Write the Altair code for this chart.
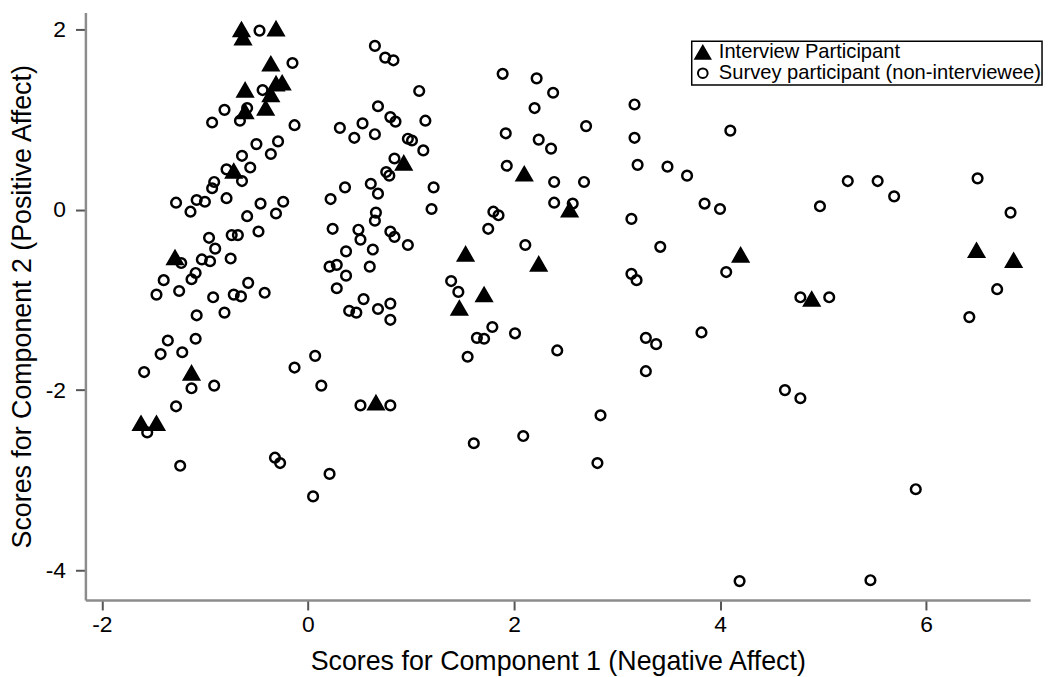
import altair as alt
import pandas as pd

# Interview participants (filled triangles)
int_x = [-0.645, -0.63, -0.31, -0.36, -0.61, -0.31, -0.25, -0.36, -0.41, -0.61, -0.72,
         -1.29, -1.13, -1.62, -1.47, 0.66, 0.93, 2.10, 2.54, 1.53, 2.24, 1.71, 1.47,
         4.20, 4.89, 6.49, 6.85]
int_y = [2.00, 1.91, 2.01, 1.62, 1.33, 1.40, 1.41, 1.28, 1.13, 1.09, 0.43,
         -0.53, -1.81, -2.37, -2.37, -2.14, 0.52, 0.40, 0.00, -0.49, -0.60, -0.94, -1.09,
         -0.50, -0.99, -0.45, -0.56]

# Survey participants (hollow circles)
sur_x = [-0.47, -0.15, -0.44, -0.59, -0.81, -0.93, -0.66, -0.13, -0.50, -0.29, -0.64, -0.36,
         -0.56, -0.79, -0.64, -0.91, -0.93, -1.28, -1.08, -1.00, -0.79, -1.14, -0.46, -0.24,
         -0.59, -0.31,
         -0.96, -0.74, -0.68, -0.48, -0.90, -1.23, -1.03, -0.95, -0.75, -1.09, -1.13, -1.40,
         -1.47, -1.25, -0.92, -0.72, -0.65, -0.58, -0.42, -1.08, -0.81, -1.09, -1.36, -1.43,
         -1.22, -1.59, -1.13, -0.91, -1.28, -1.56, -1.24, -0.32, -0.27, -0.13, 0.07,
         0.65, 0.75, 0.83, 1.08, 0.68, 0.80, 0.85, 1.14, 0.31, 0.53, 0.45, 0.65, 0.97, 1.01,
         1.12, 0.84, 0.76, 0.79, 0.36, 0.61, 0.68, 0.22, 1.22, 1.20, 0.66, 0.65,
         0.24, 0.49, 0.51, 0.80, 0.84, 0.97, 0.37, 0.63, 0.21, 0.28, 0.37, 0.60, 0.28, 0.54,
         0.40, 0.47, 0.68, 0.80, 0.80, 0.13, 0.51, 0.80, 0.21, 0.05,
         1.89, 2.22, 2.38, 2.20, 2.70, 1.92, 2.24, 2.36, 1.93, 2.39, 2.68, 2.39, 2.57, 1.80,
         1.85, 1.75, 2.11,
         1.39, 1.46, 1.79, 1.64, 1.71, 2.01, 1.55, 2.42, 2.84, 1.61, 2.09, 2.81,
         3.17, 3.17, 4.10, 3.20, 3.49, 3.68, 3.85, 4.00, 3.14, 3.42, 4.06, 3.14, 3.19, 4.78,
         5.06, 3.82, 3.28, 3.38, 3.28, 4.63, 4.78,
         5.24, 5.53, 5.69, 4.97, 6.50, 6.82, 6.69, 6.42, 5.90,
         4.19, 5.46]
sur_y = [1.99, 1.63, 1.33, 1.13, 1.11, 0.97, 0.99, 0.94, 0.73, 0.76, 0.60, 0.62,
         0.47, 0.45, 0.32, 0.31, 0.24, 0.08, 0.11, 0.09, 0.13, -0.02, 0.07, 0.09,
         -0.07, -0.04,
         -0.31, -0.28, -0.28, -0.24, -0.43, -0.59, -0.55, -0.57, -0.54, -0.70, -0.77, -0.78,
         -0.94, -0.90, -0.97, -0.94, -0.96, -0.81, -0.92, -1.17, -1.14, -1.43, -1.45, -1.60,
         -1.58, -1.80, -1.98, -1.95, -2.18, -2.47, -2.84, -2.75, -2.81, -1.75, -1.62,
         1.82, 1.69, 1.66, 1.32, 1.15, 1.03, 0.98, 0.99, 0.91, 0.96, 0.80, 0.84, 0.79, 0.77,
         0.66, 0.57, 0.42, 0.38, 0.25, 0.29, 0.18, 0.12, 0.25, 0.01, -0.03, -0.12,
         -0.21, -0.22, -0.33, -0.24, -0.30, -0.39, -0.46, -0.44, -0.63, -0.61, -0.73, -0.63,
         -0.87, -0.99, -1.12, -1.14, -1.10, -1.04, -1.22, -1.95, -2.17, -2.17, -2.93, -3.18,
         1.51, 1.46, 1.30, 1.13, 0.93, 0.85, 0.78, 0.68, 0.49, 0.31, 0.31, 0.08, 0.07, -0.02,
         -0.06, -0.21, -0.39,
         -0.79, -0.91, -1.30, -1.42, -1.43, -1.37, -1.63, -1.56, -2.28, -2.59, -2.51, -2.81,
         1.17, 0.80, 0.88, 0.50, 0.48, 0.38, 0.07, 0.01, -0.10, -0.41, -0.69, -0.71, -0.78,
         -0.97, -0.97, -1.36, -1.42, -1.49, -1.79, -2.00, -2.09,
         0.32, 0.32, 0.15, 0.04, 0.35, -0.03, -0.88, -1.19, -3.10,
         -4.12, -4.11]

groups = ["Interview Participant", "Survey participant (non-interviewee)"]

df = pd.concat([
    pd.DataFrame({"x": sur_x, "y": sur_y, "group": groups[1]}),
    pd.DataFrame({"x": int_x, "y": int_y, "group": groups[0]}),
], ignore_index=True)

FONT = "Liberation Sans"
MINUS_FIX = "replace(datum.label, '\u2212', '-')"

leg = alt.Legend(title=None, orient="none", legendX=611, legendY=29,
                 symbolStrokeWidth=2, symbolStrokeColor="black")

chart = alt.Chart(df).mark_point(
    filled=False, strokeWidth=2.5, opacity=1
).encode(
    x=alt.X("x:Q", scale=alt.Scale(domain=[-2.16, 7.01], nice=False, zero=False),
            axis=alt.Axis(values=[-2, 0, 2, 4, 6], labelExpr=MINUS_FIX,
                          title="Scores for Component 1 (Negative Affect)")),
    y=alt.Y("y:Q", scale=alt.Scale(domain=[-4.33, 2.19], nice=False, zero=False),
            axis=alt.Axis(values=[-4, -2, 0, 2], labelExpr=MINUS_FIX,
                          title="Scores for Component 2 (Positive Affect)")),
    shape=alt.Shape("group:N", scale=alt.Scale(domain=groups, range=["triangle-up", "circle"]),
                    legend=leg),
    fill=alt.Fill("group:N", scale=alt.Scale(domain=groups, range=["black", "transparent"]),
                  legend=leg),
    stroke=alt.Stroke("group:N", scale=alt.Scale(domain=groups, range=["black", "black"]),
                      legend=leg),
    size=alt.Size("group:N", scale=alt.Scale(domain=groups, range=[225, 95]), legend=leg),
    order=alt.Order("group:N", sort="descending"),
).properties(
    width=952, height=592,
    autosize=alt.AutoSizeParams(type="none"),
    padding={"left": 78, "top": 2, "right": 16, "bottom": 80},
).configure_view(
    stroke=None
).configure_axis(
    grid=False,
    domainColor="#8c8c8c", domainWidth=2.5,
    tickColor="#555555", tickWidth=2, tickSize=10,
    labelFont=FONT, labelFontSize=23, labelColor="black",
    titleFont=FONT, titleFontSize=27, titleColor="black", titleFontWeight="normal",
).configure_axisX(
    labelPadding=4, titlePadding=12,
).configure_axisY(
    labelPadding=10, titlePadding=9, labelAngle=0,
).configure_legend(
    strokeColor="black", strokeWidth=1.5, padding=1,
    labelFont=FONT, labelFontSize=20.3, labelColor="black",
    rowPadding=-2, labelOffset=6, labelLimit=600,
)

chart.save("out.html", embed_options={"renderer": "svg", "actions": False})
